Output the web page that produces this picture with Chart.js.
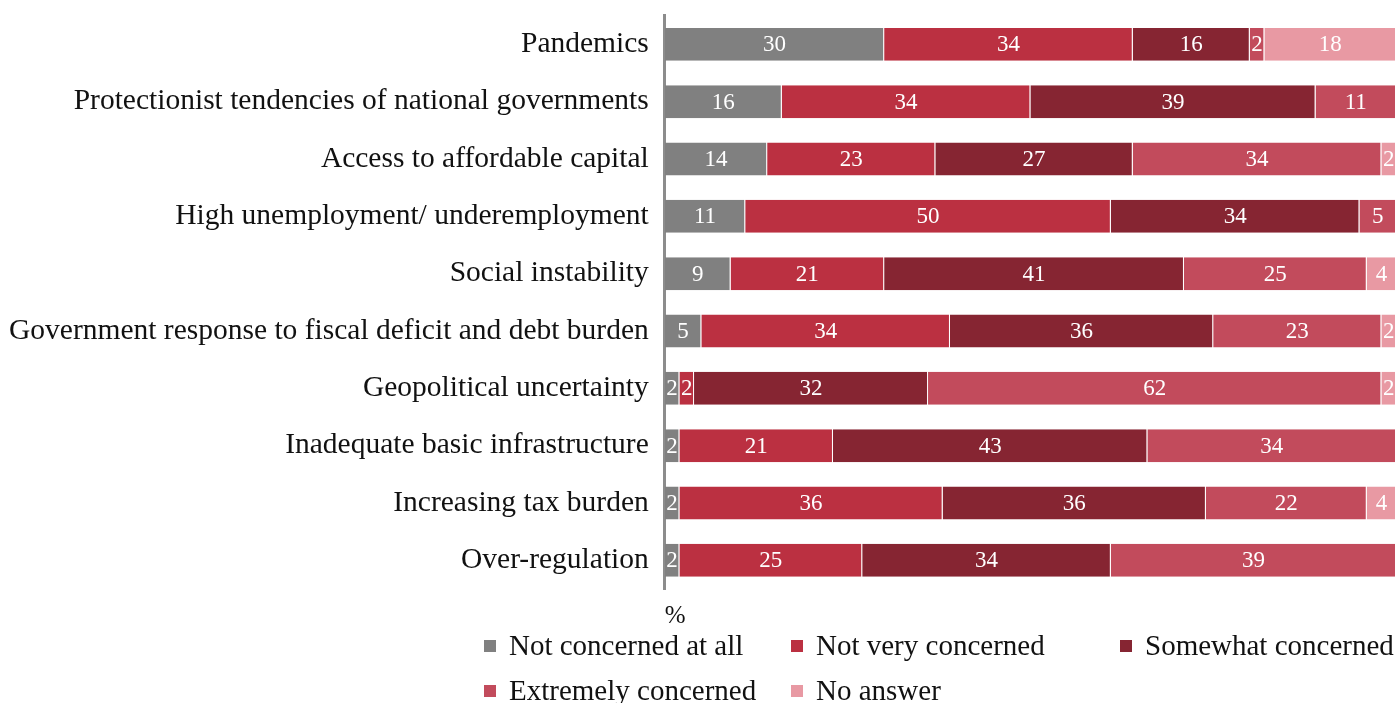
<!DOCTYPE html>
<html>
<head>
<meta charset="utf-8">
<script src="https://cdn.jsdelivr.net/npm/chart.js@4"></script>
<style>
  html, body { margin: 0; padding: 0; background: #fff; }
  body { width: 1400px; height: 703px; position: relative; overflow: hidden; font-family: "Liberation Serif", serif; }
  #wrap { position: absolute; left: -15px; top: -18px; width: 1415px; height: 649px; }
  #legend { position: absolute; left: 0; top: 625px; width: 1400px; height: 78px; }
  .item { position: absolute; display: flex; align-items: center; font-size: 29px; color: #111; white-space: nowrap; }
  .box { width: 12px; height: 12px; margin-right: 13px; }
</style>
</head>
<body>
<div id="wrap"><canvas id="chart"></canvas></div>
<div id="legend"></div>
<script>
// 数据
const categories = [
    'Pandemics',
    'Protectionist tendencies of national governments',
    'Access to affordable capital',
    'High unemployment/ underemployment',
    'Social instability',
    'Government response to fiscal deficit and debt burden',
    'Geopolitical uncertainty',
    'Inadequate basic infrastructure',
    'Increasing tax burden',
    'Over-regulation'
];
const seriesNames = ['Not concerned at all', 'Not very concerned', 'Somewhat concerned', 'Extremely concerned', 'No answer'];
const notConcerned = [30, 16, 14, 11, 9, 5, 2, 2, 2, 2];
const notVery      = [34, 34, 23, 50, 21, 34, 2, 21, 36, 25];
const somewhat     = [16, 39, 27, 34, 41, 36, 32, 43, 36, 34];
const extremely    = [2, 11, 34, 5, 25, 23, 62, 34, 22, 39];
const noAnswer     = [18, 0, 2, 0, 4, 2, 2, 0, 4, 0];
const colors = ['#808080', '#bb3041', '#862532', '#c24b5c', '#e899a3'];

const allSeries = [notConcerned, notVery, somewhat, extremely, noAnswer];

// 柱内数值
const valueLabels = {
    id: 'valueLabels',
    afterDatasetsDraw(chart) {
        const ctx = chart.ctx;
        ctx.save();
        ctx.font = '23px "Liberation Serif", serif';
        ctx.fillStyle = '#ffffff';
        ctx.textAlign = 'center';
        ctx.textBaseline = 'middle';
        chart.data.datasets.forEach((ds, i) => {
            const meta = chart.getDatasetMeta(i);
            meta.data.forEach((bar, j) => {
                const v = ds.data[j];
                if (!v) return;
                ctx.fillText(String(v), (bar.x + bar.base) / 2, bar.y + 1);
            });
        });
        ctx.restore();
    }
};

const chart = new Chart(document.getElementById('chart'), {
    type: 'bar',
    data: {
        labels: categories,
        datasets: allSeries.map((d, i) => ({
            label: seriesNames[i],
            data: d,
            backgroundColor: colors[i],
            borderColor: 'rgba(255,255,255,0.45)',
            borderWidth: { right: 1, top: 0, bottom: 0, left: 0 },
            borderSkipped: false,
            categoryPercentage: 1,
            barPercentage: 0.575
        }))
    },
    options: {
        indexAxis: 'y',
        responsive: true,
        maintainAspectRatio: false,
        animation: false,
        layout: { padding: { top: 0, right: 4, left: 8 } },
        plugins: { legend: { display: false }, tooltip: { enabled: false } },
        scales: {
            x: {
                stacked: true, min: 0, max: 100,
                ticks: { display: false },
                grid: { display: false },
                border: { display: false },
                title: { display: true, text: '%', align: 'start', color: '#111', padding: { top: 4, bottom: 0 },
                         font: { family: '"Liberation Serif", serif', size: 25 } }
            },
            y: {
                stacked: true,
                grid: { display: false, drawTicks: false },
                border: { display: true, color: '#8c8c8c', width: 3 },
                ticks: { color: '#111', padding: 16, font: { family: '"Liberation Serif", serif', size: 29.5 } }
            }
        }
    },
    plugins: [valueLabels]
});

// 图例
const legendPos = [[484, 22], [791, 22], [1120, 22], [484, 67], [791, 67]];
const legend = document.getElementById('legend');
seriesNames.forEach((name, i) => {
    const el = document.createElement('div');
    el.className = 'item';
    el.style.left = legendPos[i][0] + 'px';
    el.style.top = (legendPos[i][1] - 18) + 'px';
    el.innerHTML = `<span class="box" style="background:${colors[i]}"></span><span>${name}</span>`;
    legend.appendChild(el);
});
</script>
</body>
</html>
